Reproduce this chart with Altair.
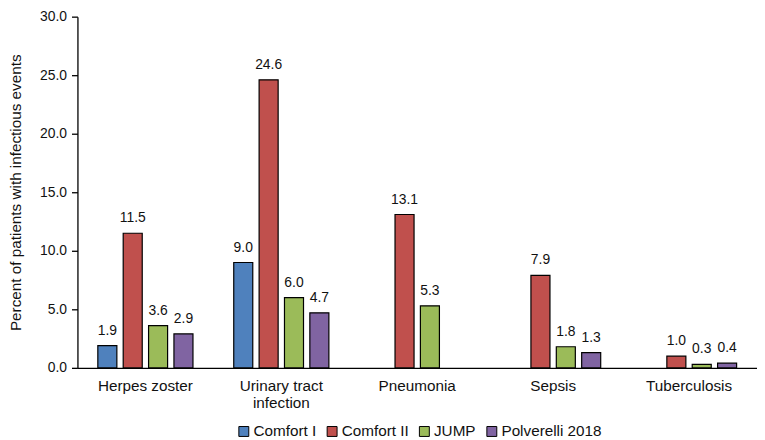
import altair as alt
import pandas as pd

categories = ["Herpes zoster", "Urinary tract infection", "Pneumonia", "Sepsis", "Tuberculosis"]
studies = ["Comfort I", "Comfort II", "JUMP", "Polverelli 2018"]
comfort1 = [1.9, 9.0, None, None, None]
comfort2 = [11.5, 24.6, 13.1, 7.9, 1.0]
jump = [3.6, 6.0, 5.3, 1.8, 0.3]
polverelli = [2.9, 4.7, None, 1.3, 0.4]
colors = ["#4F81BD", "#C0504D", "#9BBB59", "#8064A2"]
y_ticks = [0, 5, 10, 15, 20, 25, 30]

rows = []
for s, vals in zip(studies, [comfort1, comfort2, jump, polverelli]):
    for c, v in zip(categories, vals):
        if v is not None:
            rows.append({"category": c, "study": s, "value": v})
df = pd.DataFrame(rows)

FONT = "Liberation Sans"
TXT = "#111111"

x = alt.X("category:N", sort=categories, title=None,
          scale=alt.Scale(paddingInner=0.3, paddingOuter=0.15),
          axis=alt.Axis(labelAngle=0, ticks=False, domainColor="black", domainWidth=1.3,
                        labelFontSize=15.4, labelColor=TXT, labelFont=FONT, labelPadding=11,
                        labelLineHeight=17, labelBaseline="top",
                        labelExpr="datum.label == 'Urinary tract infection' ? ['Urinary tract', 'infection'] : datum.label"))
xoff = alt.XOffset("study:N", sort=studies,
                   scale=alt.Scale(domain=studies, paddingInner=0.25, paddingOuter=0))
y = alt.Y("value:Q", title="Percent of patients with infectious events",
          scale=alt.Scale(domain=[0, 30], nice=False),
          axis=alt.Axis(values=y_ticks, format=".1f", grid=False, domainColor="black", domainWidth=1.3,
                        tickColor="black", tickSize=6, tickWidth=1.3,
                        labelFontSize=14, labelColor=TXT, labelFont=FONT, labelPadding=5,
                        titleFontSize=15.4, titleFont=FONT, titleColor=TXT, titleFontWeight="normal",
                        titlePadding=16))

bars = alt.Chart(df).mark_bar(stroke="black", strokeWidth=1.2).encode(
    x=x, xOffset=xoff, y=y,
    color=alt.Color("study:N", sort=studies,
                    scale=alt.Scale(domain=studies, range=colors),
                    legend=alt.Legend(title=None, orient="none", legendX=160, legendY=410,
                                      direction="horizontal", symbolType="square",
                                      symbolSize=100, symbolStrokeColor="black", symbolStrokeWidth=1,
                                      labelFontSize=15.4, labelFont=FONT, labelColor=TXT,
                                      columnPadding=8, labelOffset=2)),
)

labels = alt.Chart(df).mark_text(baseline="bottom", dy=-8, fontSize=14, font=FONT, color=TXT).encode(
    x=x, xOffset=xoff, y=y,
    text=alt.Text("value:Q", format=".1f"),
)

chart = (bars + labels).properties(
    width=685, height=354,
    background="white",
    autosize=alt.AutoSizeParams(type="none"),
    padding={"left": 70, "top": 7, "right": 0, "bottom": 70},
).configure_view(stroke=None)

chart.save("out.html", embed_options={"renderer": "svg", "actions": False})
